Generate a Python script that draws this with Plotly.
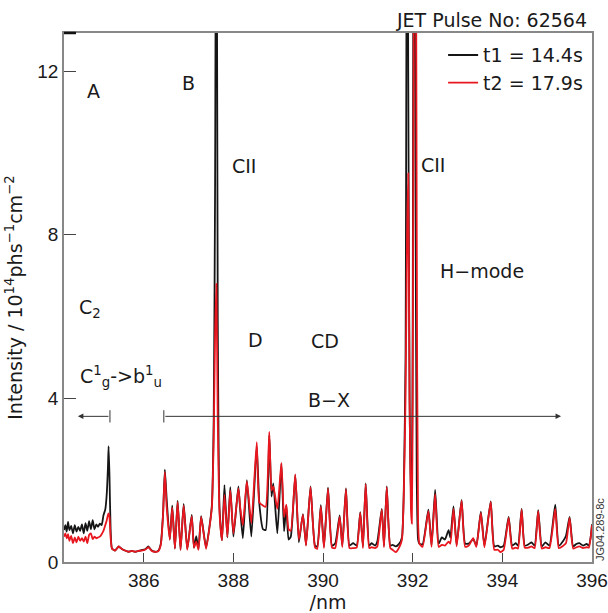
import plotly.graph_objects as go

# Wavelength samples (nm)
wavelength = [
    384.22, 384.25, 384.28, 384.31, 384.34, 384.38, 384.42, 384.46, 384.50, 384.54,
    384.58, 384.62, 384.66, 384.70, 384.74, 384.78, 384.82, 384.86, 384.90, 384.94,
    384.98, 385.02, 385.06, 385.10, 385.14, 385.17, 385.20, 385.215, 385.235, 385.26,
    385.29, 385.36, 385.44, 385.51, 385.58, 385.66, 385.73, 385.81, 385.88, 385.95,
    386.03, 386.10, 386.14, 386.18, 386.25, 386.32, 386.38, 386.43, 386.47, 386.51,
    386.58, 386.635, 386.695, 386.755, 386.82, 386.89, 386.97, 387.07, 387.12, 387.17,
    387.22, 387.28, 387.39, 387.47, 387.52, 387.56, 387.59, 387.62, 387.65, 387.69,
    387.745, 387.80, 387.865, 387.93, 388.00, 388.11, 388.15, 388.21, 388.30, 388.40,
    388.52, 388.58, 388.66, 388.72, 388.80, 388.85, 388.89, 388.98, 389.07, 389.13,
    389.18, 389.23, 389.28, 389.38, 389.46, 389.55, 389.62, 389.72, 389.82, 389.87,
    389.95, 390.02, 390.11, 390.20, 390.27, 390.37, 390.43, 390.51, 390.59, 390.67,
    390.75, 390.83, 390.89, 390.95, 391.03, 391.08, 391.16, 391.21, 391.31, 391.36,
    391.42, 391.50, 391.55, 391.62, 391.70, 391.76, 391.80, 391.84, 391.875, 391.90,
    391.93, 391.96, 391.98, 392.00, 392.025, 392.06, 392.09, 392.12, 392.15, 392.22,
    392.35, 392.42, 392.50, 392.58, 392.65, 392.72, 392.80, 392.84, 392.91, 392.98,
    393.09, 393.17, 393.25, 393.35, 393.42, 393.52, 393.60, 393.74, 393.82, 393.90,
    393.96, 394.03, 394.14, 394.22, 394.30, 394.35, 394.43, 394.50, 394.58, 394.65,
    394.72, 394.80, 394.88, 394.96, 395.05, 395.18, 395.26, 395.36, 395.42, 395.50,
    395.58, 395.65, 395.72, 395.80, 395.88, 395.93, 395.97, 396.00,
]

# Intensity at t1 = 14.4 s (black), 10^14 phs^-1 cm^-2
intensity_t1 = [
    0.78, 0.90, 0.74, 0.98, 0.78, 0.88, 0.70, 0.90, 0.74, 0.86,
    0.76, 0.92, 0.70, 0.95, 0.76, 1.00, 0.80, 1.02, 0.80, 0.92,
    0.86, 0.94, 0.90, 1.14, 1.28, 1.60, 2.30, 2.83, 2.10, 0.80,
    0.33, 0.28, 0.38, 0.32, 0.28, 0.25, 0.27, 0.25, 0.27, 0.29,
    0.31, 0.38, 0.33, 0.28, 0.25, 0.27, 0.45, 1.19, 2.26, 1.55,
    0.55, 1.38, 0.33, 1.50, 0.30, 1.42, 0.32, 1.15, 0.35, 0.63,
    0.32, 1.12, 0.35, 0.90, 1.40, 3.5, 9.0, 20.0, 6.0, 1.30,
    0.53, 1.88, 0.60, 1.83, 0.62, 1.85, 1.30, 0.58, 2.00, 0.62,
    2.82, 1.40, 0.80, 0.78, 3.10, 1.60, 1.92, 0.70, 2.40, 0.75,
    1.38, 0.55, 0.62, 2.12, 0.48, 1.17, 0.42, 1.85, 0.40, 0.38,
    1.39, 0.38, 1.82, 0.40, 0.45, 1.14, 0.40, 1.80, 0.40, 0.46,
    0.40, 1.22, 0.38, 1.92, 0.40, 0.46, 0.40, 0.50, 1.30, 0.40,
    1.85, 0.40, 0.42, 0.38, 0.45, 0.60, 1.70, 5.0, 20.0, 12.0,
    4.0, 1.5, 1.8, 6.0, 20.0, 10.0, 2.0, 0.55, 0.45, 0.43,
    1.28, 0.42, 1.76, 0.45, 0.60, 0.55, 0.78, 0.60, 1.36, 0.42,
    1.52, 0.45, 0.45, 0.56, 0.40, 1.23, 0.40, 1.48, 0.38, 0.40,
    0.36, 0.40, 1.10, 0.40, 0.46, 0.40, 1.30, 0.40, 0.43, 0.48,
    0.40, 1.27, 0.38, 0.48, 0.40, 1.40, 0.40, 0.52, 0.64, 1.10,
    0.38, 0.44, 0.46, 0.40, 0.44, 0.40, 0.60, 0.92,
]

# Intensity at t2 = 17.9 s (red)
intensity_t2 = [
    0.62, 0.70, 0.58, 0.68, 0.52, 0.64, 0.46, 0.60, 0.48, 0.62,
    0.52, 0.58, 0.50, 0.62, 0.46, 0.66, 0.70, 0.56, 0.62, 0.58,
    0.60, 0.62, 0.68, 0.76, 0.90, 1.00, 1.15, 1.19, 1.10, 0.60,
    0.33, 0.28, 0.38, 0.32, 0.28, 0.25, 0.27, 0.25, 0.27, 0.28,
    0.30, 0.36, 0.32, 0.27, 0.25, 0.26, 0.42, 1.15, 2.20, 1.35,
    0.55, 1.33, 0.33, 1.46, 0.30, 1.38, 0.30, 1.12, 0.35, 0.50,
    0.30, 1.10, 0.32, 0.88, 1.35, 3.0, 5.5, 6.8, 3.5, 1.20,
    0.53, 1.64, 0.62, 1.75, 0.70, 1.80, 1.35, 0.90, 1.97, 0.95,
    2.93, 1.45, 1.38, 1.35, 3.18, 1.75, 1.85, 1.30, 2.42, 1.10,
    1.40, 0.80, 0.76, 2.14, 0.55, 1.15, 0.40, 1.83, 0.36, 0.32,
    1.36, 0.34, 1.79, 0.35, 0.34, 1.10, 0.36, 1.78, 0.34, 0.34,
    0.35, 1.20, 0.34, 1.90, 0.34, 0.36, 0.34, 0.38, 1.28, 0.36,
    1.83, 0.34, 0.30, 0.24, 0.36, 0.55, 1.60, 4.0, 8.0, 9.5,
    4.0, 1.3, 0.94, 4.0, 14.0, 20.0, 8.0, 1.0, 0.45, 0.37,
    1.24, 0.37, 1.66, 0.37, 0.42, 0.40, 0.50, 0.45, 1.30, 0.38,
    1.50, 0.37, 0.40, 0.58, 0.37, 1.20, 0.36, 1.47, 0.30, 0.30,
    0.24, 0.30, 1.08, 0.33, 0.35, 0.33, 1.28, 0.35, 0.35, 0.38,
    0.34, 1.24, 0.33, 0.36, 0.34, 1.30, 0.34, 0.40, 0.46, 1.08,
    0.33, 0.36, 0.38, 0.34, 0.36, 0.35, 0.60, 0.90,
]

series_names = ["t1 = 14.4s", "t2 = 17.9s"]
x_ticks = [386, 388, 390, 392, 394, 396]
y_ticks = [0, 4, 8, 12]

TXT = "DejaVu Sans"
NUM = "Liberation Sans"
INK = "#1a1a1a"

fig = go.Figure()
fig.add_trace(go.Scatter(x=wavelength, y=intensity_t1, mode="lines", name=series_names[0],
                         line=dict(color="#151515", width=1.8, shape="spline", smoothing=0.5)))
fig.add_trace(go.Scatter(x=wavelength, y=intensity_t2, mode="lines", name=series_names[1],
                         line=dict(color="#e8161e", width=1.8, shape="spline", smoothing=0.5)))

def lab(text, xp, yp, size=19, **kw):
    d = dict(text=text, x=xp, y=yp, xref="paper", yref="paper", showarrow=False,
             font=dict(family=TXT, size=size, color=INK),
             xanchor="center", yanchor="middle")
    d.update(kw)
    return d

annotations = [
    lab("JET Pulse No: 62564", 0.994, 1.0246, xanchor="right"),
    lab("A", 0.0568, 0.890),
    lab("B", 0.2358, 0.906),
    lab("CII", 0.340, 0.748),
    lab("CII", 0.698, 0.751),
    lab("H\u2212mode", 0.792, 0.551),
    lab("C<sub>2</sub>", 0.050, 0.480),
    lab("D", 0.362, 0.420),
    lab("CD", 0.494, 0.417),
    lab("C<sup>1</sup><sub>g</sub>->b<sup>1</sup><sub>u</sub>", 0.108, 0.350),
    lab("B\u2212X", 0.501, 0.307),
    dict(text="JG04.289-8c", x=1.015, y=0.062, xref="paper", yref="paper", showarrow=False,
         textangle=-90, font=dict(family=NUM, size=11, color="#333"),
         xanchor="center", yanchor="middle"),
    # arrows
    dict(x=384.53, y=3.56, ax=385.245, ay=3.56, xref="x", yref="y", axref="x", ayref="y",
         text="", showarrow=True, arrowhead=2, arrowsize=1.1, arrowwidth=1, arrowcolor="#333"),
    dict(x=395.31, y=3.56, ax=386.447, ay=3.56, xref="x", yref="y", axref="x", ayref="y",
         text="", showarrow=True, arrowhead=2, arrowsize=1.1, arrowwidth=1, arrowcolor="#333"),
]

shapes = [
    dict(type="line", xref="x", yref="y", x0=385.245, x1=385.245, y0=3.41, y1=3.71,
         line=dict(color="#333", width=1)),
    dict(type="line", xref="x", yref="y", x0=386.447, x1=386.447, y0=3.41, y1=3.71,
         line=dict(color="#333", width=1)),
    dict(type="line", xref="paper", yref="paper", x0=0, x1=0.0227, y0=1, y1=1,
         line=dict(color="#111", width=2.5)),
]

fig.update_layout(
    width=608, height=613, autosize=False,
    margin=dict(l=64, r=16, t=33, b=51, pad=0),
    plot_bgcolor="white", paper_bgcolor="white",
    showlegend=True,
    legend=dict(x=0.718, y=0.994, xanchor="left", yanchor="top",
                bgcolor="rgba(0,0,0,0)", font=dict(family=TXT, size=19, color=INK),
                tracegroupgap=0),
    annotations=annotations,
    shapes=shapes,
)
fig.update_xaxes(
    range=[384.22, 396.0], tickvals=x_ticks, ticktext=[str(v) for v in x_ticks],
    ticks="inside", ticklen=9, tickwidth=1.3, tickcolor="#444",
    showline=True, linecolor="#888", linewidth=1.5, mirror=True,
    showgrid=False, zeroline=False, automargin=False,
    tickfont=dict(family=NUM, size=19, color=INK),
    title=dict(text="/nm", font=dict(family=TXT, size=19, color=INK), standoff=4),
)
fig.update_yaxes(
    range=[0, 12.93], tickvals=y_ticks, ticktext=[str(v) for v in y_ticks],
    ticks="inside", ticklen=12, tickwidth=1.3, tickcolor="#444",
    showline=True, linecolor="#888", linewidth=1.5, mirror=True,
    showgrid=False, zeroline=False, automargin=False,
    tickfont=dict(family=NUM, size=19, color=INK),
    title=dict(text="Intensity / 10<sup>14</sup>phs<sup>\u22121</sup>cm<sup>\u22122</sup>",
               font=dict(family=TXT, size=19, color=INK), standoff=10),
)

fig.write_html("out.html", config={"displayModeBar": False},
               post_script="document.body.style.margin='0';document.body.style.overflow='hidden';")
